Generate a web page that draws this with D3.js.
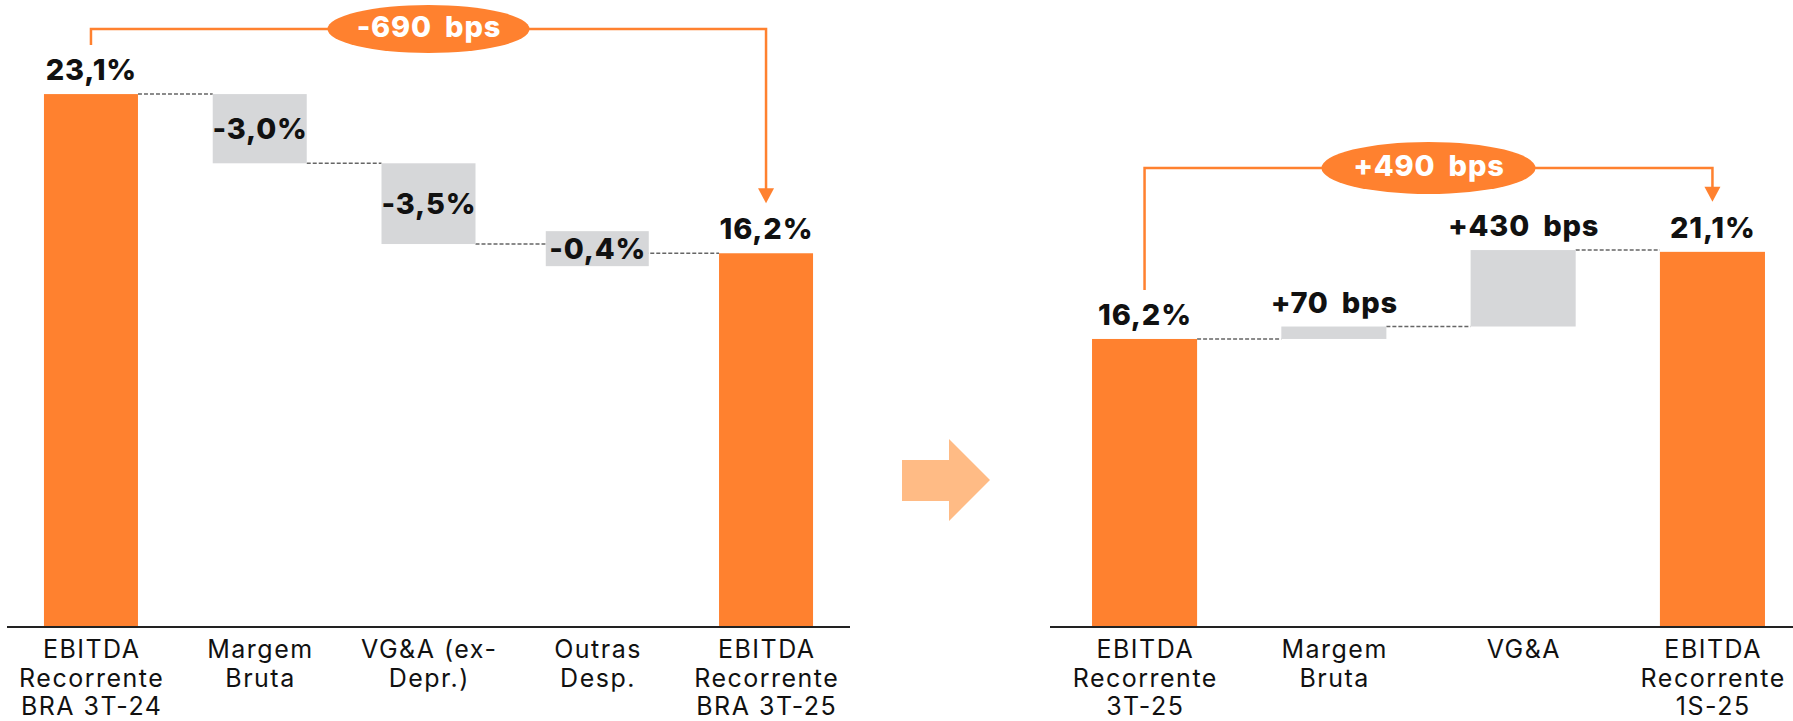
<!DOCTYPE html>
<html><head><meta charset="utf-8">
<script src="https://cdn.jsdelivr.net/npm/d3@7"></script>
<style>
html,body{margin:0;padding:0;background:#fff;}
svg{display:block;}
</style></head>
<body>
<svg id="chart" width="1793" height="721"></svg>
<script>
// ---- data ----
const leftCategories = [["EBITDA","Recorrente","BRA 3T-24"],["Margem","Bruta"],["VG&A (ex-","Depr.)"],["Outras","Desp."],["EBITDA","Recorrente","BRA 3T-25"]];
const leftValues = [23.1, -3.0, -3.5, -0.4, 16.2];
const leftTypes = ["total","delta","delta","delta","total"];
const leftLabels = ["23,1%","-3,0%","-3,5%","-0,4%","16,2%"];
const leftBracket = "-690 bps";

const rightCategories = [["EBITDA","Recorrente","3T-25"],["Margem","Bruta"],["VG&A"],["EBITDA","Recorrente","1S-25"]];
const rightValues = [16.2, 0.7, 4.3, 21.1];
const rightTypes = ["total","delta","delta","total"];
const rightLabels = ["16,2%","+70 bps","+430 bps","21,1%"];
const rightBracket = "+490 bps";

const ORANGE = "#FF812F", GRAY = "#D6D7D9", ARROW = "#FFBB85";
const FONT = "Inter, 'Open Sans', sans-serif";

const svg = d3.select("#chart");

function boldText(sel){
  return sel.attr("font-family",FONT).attr("font-weight",800).attr("font-size",29)
    .attr("letter-spacing",0.8).attr("word-spacing",6);
}

function waterfall(cfg){
  const g = svg.append("g");
  const n = cfg.values.length;
  const x = d3.scaleBand().domain(d3.range(n)).range(cfg.xRange)
      .paddingInner(cfg.pIn).paddingOuter(cfg.pOut);
  const y = d3.scaleLinear().domain([0, 25]).range([627, cfg.yTop]);
  let run = 0;
  const segs = cfg.values.map((v,i)=>{
    let a,b;
    if(cfg.types[i]==="total"){ a=0; b=v; run=v; }
    else { a=run; b=run+v; run=b; }
    return {i, v, lo:Math.min(a,b), hi:Math.max(a,b), end:b, type:cfg.types[i], label:cfg.labels[i]};
  });
  // connectors
  segs.slice(0,-1).forEach((s,k)=>{
    const nx = segs[k+1];
    g.append("line")
      .attr("x1", x(s.i)+x.bandwidth()).attr("x2", x(nx.i))
      .attr("y1", y(s.end)).attr("y2", y(s.end))
      .attr("stroke","#666").attr("stroke-width",1.5).attr("stroke-dasharray","4,2");
  });
  // bars
  g.selectAll("rect.bar").data(segs).join("rect").attr("class","bar")
    .attr("x", d=>x(d.i)).attr("width", x.bandwidth())
    .attr("y", d=>y(d.hi)).attr("height", d=>y(d.lo)-y(d.hi))
    .attr("fill", d=>d.type==="total"?ORANGE:GRAY);
  // baseline
  g.append("line").attr("x1",cfg.axisX[0]).attr("x2",cfg.axisX[1])
    .attr("y1",y(0)).attr("y2",y(0)).attr("stroke","#222").attr("stroke-width",2);
  // value labels
  segs.forEach(s=>{
    const cx = x(s.i)+x.bandwidth()/2;
    let ty;
    if(s.type==="delta" && cfg.inside){
      const mid = (y(s.lo)+y(s.hi))/2;
      const h = y(s.lo)-y(s.hi);
      if(h<35){
        g.append("rect").attr("x", cx-51.5).attr("width",103)
          .attr("y", mid-17.5).attr("height",35).attr("fill",GRAY);
      }
      ty = mid+10.5;
    } else {
      ty = y(s.hi)-14;
    }
    boldText(g.append("text").attr("x",cx+0.4).attr("y",ty).attr("text-anchor","middle"))
      .attr("fill","#111").text(s.label);
  });
  // category labels
  segs.forEach((s,i)=>{
    const cx = x(i)+x.bandwidth()/2 + 0.75;
    cfg.cats[i].forEach((line,k)=>{
      g.append("text").attr("x", cx).attr("y", 658 + k*28.5)
        .attr("text-anchor","middle").attr("font-family",FONT)
        .attr("font-size",25).attr("letter-spacing",1.5).attr("fill","#111").text(line);
    });
  });
  // bracket
  const first = segs[0], last = segs[n-1];
  const x1 = x(0)+x.bandwidth()/2, x2 = x(n-1)+x.bandwidth()/2;
  const yb = cfg.bracketY;
  const yStart = y(first.hi)-49, yTip = y(last.hi)-50;
  g.append("path")
    .attr("d", `M${x1},${yStart}V${yb}H${x2}V${yTip-12}`)
    .attr("fill","none").attr("stroke",ORANGE).attr("stroke-width",2.5);
  g.append("path")
    .attr("d", `M${x2-8},${yTip-15}L${x2+8},${yTip-15}L${x2},${yTip}Z`)
    .attr("fill",ORANGE);
  const mx = (x1+x2)/2;
  g.append("ellipse").attr("cx",mx).attr("cy",yb).attr("rx",cfg.rx).attr("ry",cfg.ry).attr("fill",ORANGE);
  boldText(g.append("text").attr("x",mx+0.4).attr("y",yb+8).attr("text-anchor","middle"))
    .attr("fill","#fff").text(cfg.bracket);
}

waterfall({values:leftValues, types:leftTypes, labels:leftLabels, cats:leftCategories,
  xRange:[7,850], pIn:0.443, pOut:0.219, yTop:627-25*23.07, axisX:[7,850],
  inside:true, bracketY:29, bracket:leftBracket, rx:101, ry:24});

waterfall({values:rightValues, types:rightTypes, labels:rightLabels, cats:rightCategories,
  xRange:[1050,1807], pIn:0.445, pOut:0.222, yTop:627-25*17.78, axisX:[1050,1793],
  inside:false, bracketY:168, bracket:rightBracket, rx:107, ry:26});

// middle arrow
svg.append("path")
  .attr("d","M902,460H949V439L990,480L949,521V501H902Z")
  .attr("fill",ARROW);
</script>
</body></html>
